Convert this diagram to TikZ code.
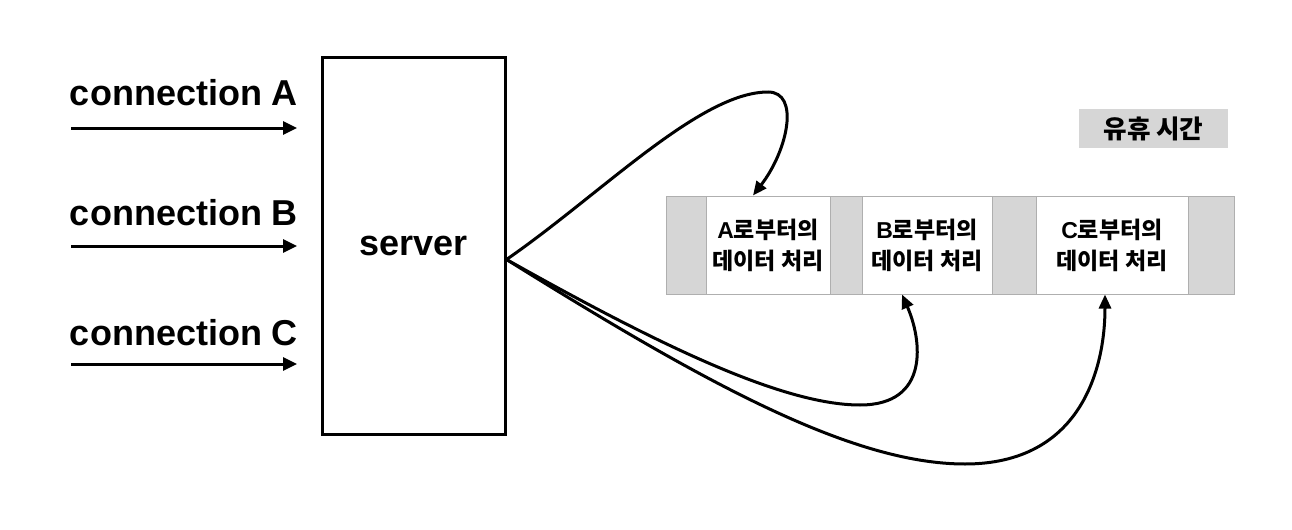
\documentclass[tikz,border=0pt]{standalone}
\usepackage{fontspec}
\setmainfont{Liberation Sans}
\newfontfamily\kr{Noto Sans CJK KR}
\usetikzlibrary{arrows.meta,calc}
\definecolor{idle}{RGB}{214,214,214}
\definecolor{edge}{RGB}{175,175,175}
\tikzset{
  lbl/.style={font=\fontsize{18}{20}\selectfont\bfseries, inner sep=0pt},
  conn/.style={line width=1.5pt, -{Triangle[length=7pt,width=6.5pt]}},
  flow/.style={line width=1.5pt, -{Triangle[length=7pt,width=6pt]}},
  idleseg/.style={fill=idle, draw=edge, line width=0.5pt, inner sep=0pt, minimum height=49pt},
  workseg/.style={fill=white, draw=edge, line width=0.5pt, inner sep=0pt, minimum height=49pt,
    align=center, font=\fontsize{11.5}{15.5}\selectfont},
}
\begin{document}
\begin{tikzpicture}[x=0.5pt,y=-0.5pt]
\useasboundingbox (0,0) rectangle (1292,530);
% server
\node[draw, line width=1.5pt, minimum width=91.5pt, minimum height=188.5pt, inner sep=0pt,
  font=\fontsize{18}{20}\selectfont\bfseries] (server) at (413.5,245.5) {server};
% connection labels and arrows
\node[lbl] (la) at (184,93) {connection A};
\node[lbl] (lb) at (184,213) {connection B};
\node[lbl] (lc) at (184,333) {connection C};
\coordinate (a0) at (71,128); \coordinate (a1) at (297,128);
\coordinate (b0) at (71,246); \coordinate (b1) at (297,246);
\coordinate (c0) at (71,364); \coordinate (c1) at (297,364);
\draw[conn] (a0) -- (a1);
\draw[conn] (b0) -- (b1);
\draw[conn] (c0) -- (c1);
% timeline bar
\node[idleseg, minimum width=20pt] (g1) at (686,245) {};
\node[workseg, minimum width=62pt] (segA) at (768,245) {\textbf{A}{\kr\bfseries 로부터의}\\{\kr\bfseries 데이터 처리}};
\node[idleseg, minimum width=16pt] (g2) at (846,245) {};
\node[workseg, minimum width=65pt] (segB) at (927,245) {\textbf{B}{\kr\bfseries 로부터의}\\{\kr\bfseries 데이터 처리}};
\node[idleseg, minimum width=22pt] (g3) at (1014,245) {};
\node[workseg, minimum width=76pt] (segC) at (1112,245) {\textbf{C}{\kr\bfseries 로부터의}\\{\kr\bfseries 데이터 처리}};
\node[idleseg, minimum width=23pt] (g4) at (1211,245) {};
% legend
\node[fill=idle, minimum width=74.5pt, minimum height=19.5pt, inner sep=0pt,
  font=\fontsize{12.8}{14}\selectfont\kr\bfseries] (legend) at (1153.5,128.5) {유휴 시간};
% flows
\coordinate (out) at ([yshift=-7pt]server.east);
\coordinate (topA) at (768,92);
\coordinate (botB) at (860,405);
\coordinate (botC) at (965,464);
\draw[flow] (out) .. controls (600,195) and (700,92) .. (topA)
  .. controls (800,92) and (788,150) .. ([xshift=-7.5pt]segA.north);
\draw[flow] (out) .. controls (650,340) and (780,405) .. (botB)
  .. controls (930,405) and (922,340) .. ([xshift=-12.5pt]segB.south);
\draw[flow] (out) .. controls (700,380) and (850,464) .. (botC)
  .. controls (1080,464) and (1105,370) .. ([xshift=-3.5pt]segC.south);
\end{tikzpicture}
\end{document}
